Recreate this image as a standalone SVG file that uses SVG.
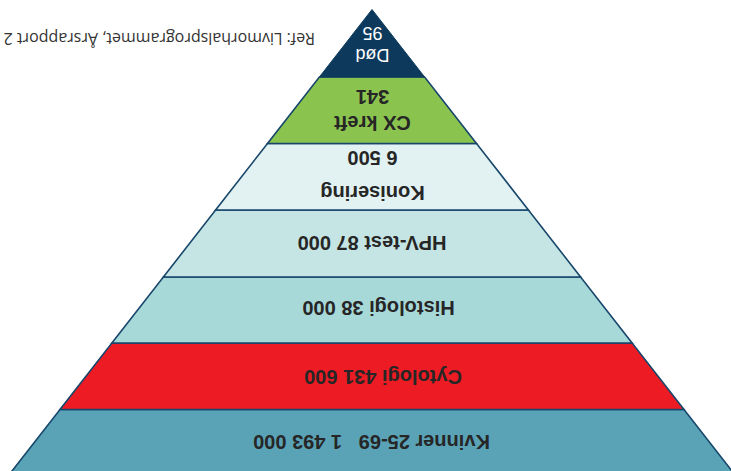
<svg xmlns="http://www.w3.org/2000/svg" width="731" height="471" viewBox="0 0 731 471">
<style>
.band{stroke:#17466b;stroke-width:1.6;stroke-linejoin:miter}
.lbl{font-family:"Liberation Sans",Arial,sans-serif;font-weight:bold;font-size:20px;fill:#262626;text-anchor:middle}
.top{font-family:"Liberation Sans",Arial,sans-serif;font-size:18px;fill:#ffffff;text-anchor:middle}
.ref{font-family:"Open Sans","Liberation Sans",sans-serif;font-size:16px;fill:#333333}
</style>
<rect width="731" height="471" fill="#ffffff"/>
<g id="band-kvinner">
<polygon class="band" points="60,409.5 684,409.5 739,480 5,480" fill="#5aa3b7"/>
<text class="lbl" x="371.5" y="449" transform="rotate(180 371.5 442)" style="white-space:pre">Kvinner 25-69   1 493 000</text>
</g>
<g id="band-cytologi">
<polygon class="band" points="111.9,343 632.1,343 684,409.5 60,409.5" fill="#ed1c24"/>
<text class="lbl" x="383" y="384" transform="rotate(180 383 377)">Cytologi 431 600</text>
</g>
<g id="band-histologi">
<polygon class="band" points="163.4,277 580.6,277 632.1,343 111.9,343" fill="#a8d9d9"/>
<text class="lbl" x="378.5" y="315" transform="rotate(180 378.5 308)">Histologi 38 000</text>
</g>
<g id="band-hpv">
<polygon class="band" points="215.6,210 528.4,210 580.6,277 163.4,277" fill="#c5e5e5"/>
<text class="lbl" x="372" y="250" transform="rotate(180 372 243)">HPV-test 87 000</text>
</g>
<g id="band-konisering">
<polygon class="band" points="267.5,143.5 476.5,143.5 528.4,210 215.6,210" fill="#e2f1f1"/>
<text class="lbl" x="372.5" y="200" transform="rotate(180 372.5 193)">Konisering</text>
<text class="lbl" x="372.5" y="165" transform="rotate(180 372.5 158)">6 500</text>
</g>
<g id="band-cxkreft">
<polygon class="band" points="319.4,77 424.6,77 476.5,143.5 267.5,143.5" fill="#8bc34f"/>
<text class="lbl" x="372.5" y="130" transform="rotate(180 372.5 123)">CX kreft</text>
<text class="lbl" x="372.5" y="104" transform="rotate(180 372.5 97)">341</text>
</g>
<g id="band-dod">
<polygon points="372,9.5 424.6,77 319.4,77" fill="#0d3a5c" stroke="#0d3a5c" stroke-width="1"/>
<text class="top" x="372.5" y="61.5" transform="rotate(180 372.5 55)">Død</text>
<text class="top" x="372.5" y="39.5" transform="rotate(180 372.5 33)">95</text>
</g>
<g id="ref">
<text class="ref" x="315" y="43.5" transform="rotate(180 315 38)">Ref: Livmorhalsprogrammet, Årsrapport 2</text>
</g>
<g id="connectors"/>
</svg>
